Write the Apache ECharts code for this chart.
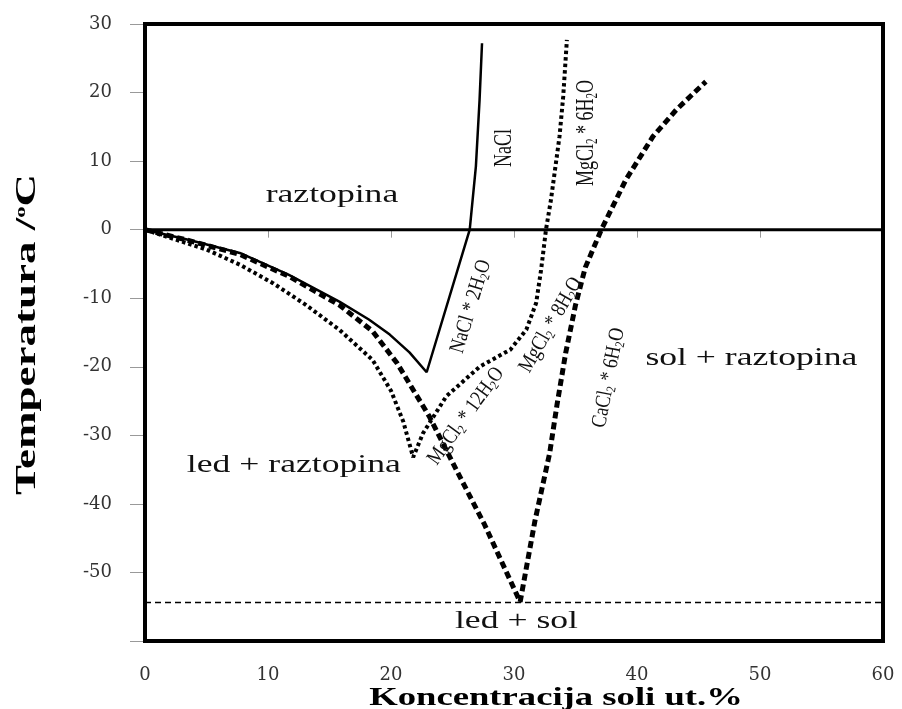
<!DOCTYPE html>
<html><head><meta charset="utf-8">
<script src="https://cdn.jsdelivr.net/npm/echarts/dist/echarts.min.js"></script>
<style>html,body{margin:0;padding:0;background:#fff}#c{width:902px;height:709px}</style>
</head><body><div id="c"></div>
<script>
// ---- data (x = Koncentracija soli ut.%, y = Temperatura /°C) ----
const naclCurve = [[0,0],[3.6,-1.5],[7.7,-3.4],[11.7,-6.6],[15.8,-10.5],[18.2,-13.1],[19.9,-15.3],[21.5,-17.9],[22.9,-20.8],[26.4,0],[26.9,9.2],[27.2,18.9],[27.4,27.2]];
const cacl2Curve = [[0,0],[3.6,-1.6],[7.7,-3.6],[11.7,-6.8],[15.8,-11.0],[18.5,-14.8],[20.5,-19.5],[23.1,-27.2],[25.3,-35.0],[27.6,-43.0],[30.5,-54.3],[31.7,-42.5],[32.9,-32.6],[33.5,-25.5],[34.2,-18.0],[35.0,-11.0],[35.8,-5.5],[37.1,0],[39.1,7.3],[41.3,13.6],[43.2,17.5],[45.6,21.6]];
const mgcl2Curve = [[0,0],[5.0,-2.9],[7.7,-5.1],[10.4,-7.8],[13.1,-11.0],[15.8,-14.6],[18.5,-19.0],[20.0,-23.5],[21.0,-28.0],[21.8,-33.2],[22.6,-29.7],[24.5,-24.3],[27.2,-20.0],[29.7,-17.5],[31.0,-14.6],[31.8,-10.7],[32.2,-5.9],[32.6,0],[33.0,4.3],[33.7,13.6],[34.0,19.4],[34.3,27.7]];
const zeroLine = [[0,0],[60,0]];
const eutecticLine = [[0,-54.4],[60,-54.4]];
const xTickValues = [0,10,20,30,40,50,60];
const yTickValues = [-60,-50,-40,-30,-20,-10,0,10,20,30];
const yTickLabels = ['', '-50','-40','-30','-20','-10','0','10','20','30'];
// region labels: [text, x, y]
const regionLabels = [['raztopina',15.2,5.1],['led + raztopina',12.1,-34.3],['sol + raztopina',49.3,-18.7],['led + sol',30.2,-57.1]];
// curve labels: [rich text, x, y, angle]
const curveLabels = [
  ['{n|NaCl}',29.2,11.9,90],
  ['{n|MgCl}{s|2}{n| * 6H}{s|2}{n|O}',35.9,14.1,90],
  ['{n|NaCl * 2H}{s|2}{n|O}',26.5,-11.2,73],
  ['{n|MgCl}{s|2}{n| * 8H}{s|2}{n|O}',33.0,-13.9,60],
  ['{n|MgCl}{s|2}{n| * 12H}{s|2}{n|O}',26.1,-27.2,54],
  ['{n|CaCl}{s|2}{n| * 6H}{s|2}{n|O}',37.7,-21.6,79]
];
const xTitle = 'Koncentracija soli ut.%';
const yTitle = '{b|Temperatura /}{sup|o}{b|C}';

const chart = echarts.init(document.getElementById('c'), null, {renderer:'canvas'});
const serif = 'Liberation Serif';
function lineSeries(data, width, type){
  return {type:'line', data:data, symbol:'none', silent:true, animation:false,
    lineStyle:{color:'#000', width:width, type:type, cap:'butt'}, z:3};
}
chart.setOption({
  animation:false,
  backgroundColor:'#fff',
  grid:{left:145, right:19, top:24, bottom:68, show:true, borderColor:'#000', borderWidth:4, backgroundColor:'transparent', z:5},
  xAxis:{type:'value', min:0, max:60, interval:10,
    axisLine:{show:false}, splitLine:{show:false},
    axisTick:{show:true, length:8, inside:false, lineStyle:{color:'#999', width:1}},
    axisLabel:{margin:25, fontFamily:'DejaVu Serif', fontSize:18, color:'#333',
      formatter:v=> xTickValues.indexOf(v)>=0 ? String(v) : ''}},
  yAxis:{type:'value', min:-60, max:30, interval:10,
    axisLine:{show:false}, splitLine:{show:false},
    axisTick:{show:true, length:15, inside:false, lineStyle:{color:'#999', width:1}},
    axisLabel:{margin:33, fontFamily:'DejaVu Serif', fontSize:18, color:'#333',
      formatter:v=>{const i=yTickValues.indexOf(v); return i>=0 ? yTickLabels[i] : '';}}},
  series:[
    lineSeries(zeroLine, 3, 'solid'),
    lineSeries(eutecticLine, 1.5, [6,4]),
    lineSeries(naclCurve, 2.5, 'solid'),
    lineSeries(mgcl2Curve, 4, [3.5,3]),
    lineSeries(cacl2Curve, 5, [7,4])
  ]
});

function px(x,y){ return chart.convertToPixel({gridIndex:0},[x,y]); }
const graphics = [];
regionLabels.forEach(r=>{
  const p = px(r[1], r[2]);
  graphics.push({type:'text', x:p[0], y:p[1], scaleX:1.37, scaleY:1, z:10,
    style:{text:r[0], fill:'#111', font:'26px "Liberation Serif"', align:'center', verticalAlign:'middle'}});
});
curveLabels.forEach(c=>{
  const p = px(c[1], c[2]);
  graphics.push({type:'text', x:p[0], y:p[1], rotation:c[3]*Math.PI/180, scaleX:1, scaleY:(c[3]===90?1.45:1.2), z:10,
    style:{text:c[0], align:'center', verticalAlign:'middle',
      rich:{n:{fontFamily:serif, fontSize:18, fill:'#111'}, s:{fontFamily:serif, fontSize:11, fill:'#111', padding:[9,0,0,0]}}}});
});
const xc = px(30,-60);
graphics.push({type:'text', x:xc[0]+42, y:698, scaleX:1.41, z:10,
  style:{text:xTitle, fill:'#000', font:'bold 26px "Liberation Serif"', align:'center', verticalAlign:'middle'}});
const yc = px(0,-15);
graphics.push({type:'text', x:28, y:yc[1]+2, rotation:Math.PI/2, scaleX:1.5, scaleY:0.95, z:10,
  style:{text:yTitle, align:'center', verticalAlign:'middle',
    rich:{b:{fontFamily:serif, fontWeight:'bold', fontSize:30, fill:'#000'}, sup:{fontFamily:serif, fontWeight:'bold', fontSize:15, fill:'#000', padding:[0,0,14,0]}}}});
chart.setOption({graphic:graphics});
</script></body></html>
